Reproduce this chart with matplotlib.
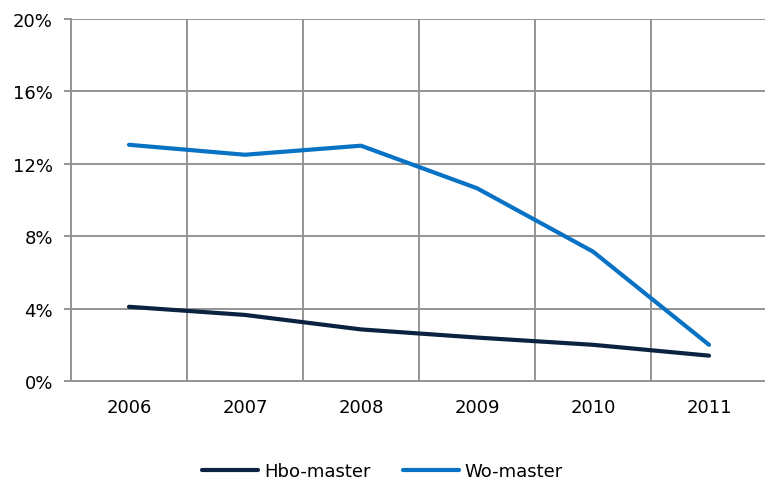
import numpy as np
import matplotlib.pyplot as plt

# data
years = ["2006", "2007", "2008", "2009", "2010", "2011"]
hbo_master = [4.1, 3.65, 2.85, 2.4, 2.0, 1.4]
wo_master = [13.05, 12.5, 13.0, 10.65, 7.15, 2.0]
y_ticks = [0, 4, 8, 12, 16, 20]

grid_color = "#949494"

fig = plt.figure(figsize=(7.65, 4.81), dpi=100)
ax = fig.add_axes([71 / 765, 1 - 382 / 481, 696 / 765, 362 / 481])

x = np.arange(len(years))
ax.plot(x, hbo_master, color="#0b2341", lw=3.0, solid_capstyle="round", label="Hbo-master")
ax.plot(x, wo_master, color="#0872c4", lw=3.0, solid_capstyle="round", label="Wo-master")

ax.set_xlim(-0.5, len(years) - 0.5)
ax.set_ylim(0, 20)
ax.set_yticks(y_ticks)
ax.set_yticklabels([f"{v}%" for v in y_ticks])
ax.set_xticks(x)
ax.set_xticklabels(years)

# vertical lines between categories
ax.set_xticks(np.arange(-0.5, len(years)), minor=True)
ax.grid(True, which="minor", axis="x", color=grid_color, lw=1.4)
ax.grid(True, which="major", axis="y", color=grid_color, lw=1.4)
ax.set_axisbelow(True)

for side in ["top", "right"]:
    ax.spines[side].set_visible(False)
for side in ["left", "bottom"]:
    ax.spines[side].set_color(grid_color)
    ax.spines[side].set_linewidth(1.4)

ax.tick_params(axis="y", which="major", length=5, width=1.4, color=grid_color,
               labelsize=13, pad=8)
ax.tick_params(axis="x", which="major", length=0, labelsize=13, pad=12)
ax.tick_params(axis="x", which="minor", length=0)

fig.legend(loc="center", bbox_to_anchor=(0.5, 1 - 472 / 481), ncol=2, frameon=False,
           fontsize=13, handlelength=3.1, handletextpad=0.3, columnspacing=1.8)

plt.savefig("out.png", dpi=100)
